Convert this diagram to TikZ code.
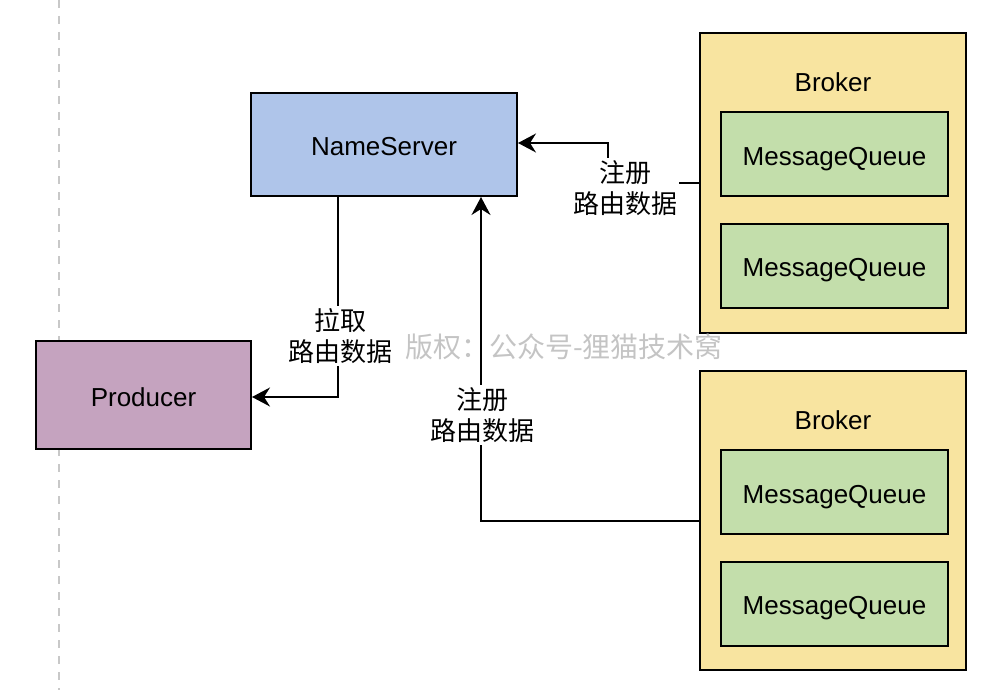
\documentclass[tikz,border=0pt]{standalone}
\usepackage{fontspec}
\setmainfont{Liberation Sans}
\newfontfamily\cjk{Noto Sans CJK SC}
\usetikzlibrary{arrows.meta}
\definecolor{nsfill}{HTML}{AFC5EA}
\definecolor{prfill}{HTML}{C5A3BF}
\definecolor{brfill}{HTML}{F8E4A0}
\definecolor{mqfill}{HTML}{C3DEAB}
\definecolor{wmgray}{HTML}{C4C4C4}
\definecolor{dashgray}{HTML}{C8C8C8}
\tikzset{
  box/.style={draw=black, line width=1pt, inner sep=0pt, text height=14pt, text depth=2.7pt, font=\fontsize{13pt}{15.5pt}\selectfont},
  mq/.style={box, fill=mqfill, minimum width=113.5pt, minimum height=42pt},
  broker/.style={box, fill=brfill, minimum width=133pt, minimum height=150pt},
  arr/.style={line width=1pt, -{Stealth[length=9pt, width=9.5pt, inset=3pt]}},
  lbl/.style={fill=white, inner sep=1pt, align=center, font=\cjk\fontsize{13pt}{15.5pt}\selectfont},
  plaintext/.style={inner sep=0pt, font=\fontsize{13pt}{15.5pt}\selectfont}
}
\begin{document}
\begin{tikzpicture}[x=0.5pt, y=-0.5pt]
\useasboundingbox (0,0) rectangle (1006,690);
% dashed guide line
\coordinate (dtop) at (59,0);
\coordinate (dbot) at (59,690);
\draw[dashgray, line width=1pt, dash pattern=on 4pt off 4pt] (dtop) -- (dbot);

% boxes
\node[box, fill=nsfill, minimum width=133pt, minimum height=51.5pt] (ns) at (384,144.5) {NameServer};
\node[box, fill=prfill, minimum width=107.5pt, minimum height=54pt] (pr) at (143.5,395) {Producer};

\node[broker] (b1) at (833,183) {};
\node[plaintext] (b1t) at (833,82) {Broker};
\node[mq] (mq1) at (834.5,154) {MessageQueue};
\node[mq] (mq2) at (834.5,265.5) {MessageQueue};

\node[broker, minimum height=149.5pt] (b2) at (833,520.5) {};
\node[plaintext] (b2t) at (833,420) {Broker};
\node[mq] (mq3) at (834.5,492) {MessageQueue};
\node[mq] (mq4) at (834.5,603.5) {MessageQueue};

% watermark
\node[inner sep=0pt, text=wmgray, font=\cjk\fontsize{14pt}{16pt}\selectfont] (wm) at (564,347) {版权：公众号-狸猫技术窝};

% connectors
\coordinate (c1) at (338,397);
\draw[arr] (ns.south -| c1) -- (c1) -- (pr.east |- c1);
\node[lbl] (l1) at (340,336) {拉取\\路由数据};

\coordinate (c2a) at (608,183);
\coordinate (c2b) at (608,143);
\draw[arr] (b1.west |- c2a) -- (c2a) -- (c2b) -- (ns.east |- c2b);
\node[lbl] (l2) at (625,188) {注册\\路由数据};

\coordinate (c3) at (481,521);
\draw[arr] (b2.west |- c3) -- (c3) -- (ns.south -| c3);
\node[lbl] (l3) at (482,415) {注册\\路由数据};
\end{tikzpicture}
\end{document}
